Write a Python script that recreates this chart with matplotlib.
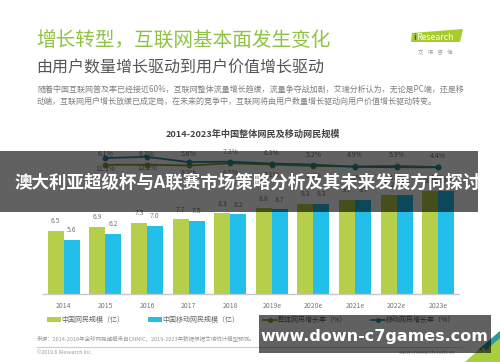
import matplotlib
matplotlib.use("Agg")
import matplotlib.pyplot as plt
from matplotlib.patches import Rectangle, Polygon, Patch
from matplotlib.lines import Line2D
import numpy as np

plt.rcParams['font.family'] = ['Noto Sans CJK SC', 'DejaVu Sans']

# ---------------- data ----------------
years = ["2014", "2015", "2016", "2017", "2018", "2019e", "2020e", "2021e", "2022e", "2023e"]
netizens = [6.5, 6.9, 7.3, 7.7, 8.3, 8.8, 9.3, 9.7, 10.2, 10.6]          # 中国网民规模（亿）
mobile_netizens = [5.6, 6.2, 7.0, 7.5, 8.2, 8.7, 9.3, 9.7, 10.2, 10.6]   # 中国移动网民规模（亿）
overall_growth = [6.1, 6.2, 5.6, 7.3, 6.3, 5.2, 4.9, 5.3, 4.4]           # 整体网民增长率（%） 2015-2023e
mobile_growth = [11.3, 12.2, 8.2, 8.5, 7.1, 6.3, 4.5, 4.3, 4.2]          # 移动网民增长率（%） 2015-2023e

legend_labels = ["中国网民规模（亿）", "中国移动网民规模（亿）", "整体网民增长率（%）", "移动网民增长率（%）"]

title = "增长转型，互联网基本面发生变化"
subtitle = "由用户数量增长驱动到用户价值增长驱动"
para1 = "随着中国互联网普及率已经接近60%，互联网整体流量增长趋缓，流量争夺战加剧，艾瑞分析认为，无论是PC端，还是移"
para2 = "动端，互联网用户增长放缓已成定局，在未来的竞争中，互联网将由用户数量增长驱动向用户价值增长驱动转变。"
chart_title = "2014-2023年中国整体网民及移动网民规模"
source = "来源：2014-2018年全球网民规模来自CNNIC，2019-2023年数据根据艾瑞统计模型预测。"
banner_text = "澳大利亚超级杯与A联赛市场策略分析及其未来发展方向探讨"
banner2_text = "www.down-c7games.com"

GREEN = "#b5cf4a"
BLUE = "#22bfea"
OLIVE = "#8a9b2c"
TEAL = "#2a8ea0"

W, H = 500, 362
fig = plt.figure(figsize=(W / 100, H / 100), dpi=100)
fig.patch.set_facecolor("white")

def fx(x):
    return x / W

def fy(y):
    return 1 - y / H

# ---------------- header texts ----------------
fig.text(fx(36), fy(41), title, fontsize=14.1, color="#8fc346", va="center", ha="left")
fig.text(fx(36), fy(68), subtitle, fontsize=11.5, color="#555555", va="center", ha="left")
fig.text(fx(37), fy(89), para1, fontsize=5.8, color="#808080", va="center", ha="left")
fig.text(fx(37), fy(101), para2, fontsize=5.8, color="#808080", va="center", ha="left")

# logo
logo = Polygon([(fx(412), fy(33)), (fx(463), fy(29)), (fx(460), fy(42)), (fx(411), fy(42))],
               closed=True, transform=fig.transFigure, facecolor="#a8cc2c", edgecolor="none")
fig.add_artist(logo)
fig.text(fx(413), fy(37), "i", fontsize=6.5, color="#1f5fa8", va="center", ha="left", fontweight="bold")
fig.text(fx(416), fy(37), "Research", fontsize=6.3, color="white", va="center", ha="left")
fig.text(fx(435), fy(52), "艾    瑞    咨    询", fontsize=3.8, color="#999999", va="center", ha="center")

# chart title
fig.text(fx(253), fy(134), chart_title, fontsize=6.6, color="#444444", va="center", ha="center",
         fontweight="bold")

# ---------------- chart ----------------
ax = fig.add_axes([fx(43), fy(294), (459 - 43) / W, (294 - 130) / H])
x = np.arange(len(years))
bw = 0.385
ax.bar(x - bw / 2, netizens, width=bw, color=GREEN, zorder=2)
ax.bar(x + bw / 2, mobile_netizens, width=bw, color=BLUE, zorder=2)
for xi, v in zip(x, netizens):
    ax.annotate(f"{v:.1f}", (xi - bw / 2, v), xytext=(0, 4), textcoords="offset points",
                ha="center", va="bottom", fontsize=5, color="#777777")
for xi, v in zip(x, mobile_netizens):
    ax.annotate(f"{v:.1f}", (xi + bw / 2, v), xytext=(0, 4), textcoords="offset points",
                ha="center", va="bottom", fontsize=5, color="#777777")
ax.set_xlim(-0.5, len(years) - 0.5)
ax.set_ylim(0, (294 - 130) / 9.73)
ax.set_xticks(x)
ax.set_xticklabels(years, fontsize=5, color="#777777")
ax.tick_params(axis="x", length=0, pad=6)
ax.set_yticks([])
for s in ["left", "right", "top"]:
    ax.spines[s].set_visible(False)
ax.spines["bottom"].set_color("#c8c8c8")
ax.spines["bottom"].set_linewidth(1.0)
ax.patch.set_alpha(0)

ax2 = ax.twinx()
ax2.set_ylim(-92.5, 32.7)
ax2.set_axis_off()
xl = x[1:]
ax2.plot(xl, overall_growth, color=OLIVE, lw=1.3, marker="o", ms=3.2, zorder=3)
ax2.plot(xl, mobile_growth, color=TEAL, lw=1.3, marker="o", ms=3.2, zorder=3)
for xi, v in zip(xl, overall_growth):
    ax2.annotate(f"{v:.1f}%", (xi, v), xytext=(0, 8), textcoords="offset points",
                 ha="center", va="center", fontsize=5, color="#777777")
for xi, v in zip(xl, mobile_growth):
    ax2.annotate(f"{v:.1f}%", (xi, v), xytext=(0, -8), textcoords="offset points",
                 ha="center", va="center", fontsize=5, color="#777777")

# legend
handles = [Patch(facecolor=GREEN, edgecolor="none"),
           Patch(facecolor=BLUE, edgecolor="none"),
           Line2D([], [], color=OLIVE, lw=1.2, marker="o", ms=2.5),
           Line2D([], [], color=TEAL, lw=1.2, marker="o", ms=2.5)]
fig.legend(handles, legend_labels, ncol=4, loc="center", bbox_to_anchor=(fx(251), fy(320)),
           frameon=False, fontsize=5, handlelength=2.0, handleheight=0.6, handletextpad=0.1,
           columnspacing=3.4, labelcolor="#666666")

# footer
fig.text(fx(37), fy(339), source, fontsize=4, color="#999999", va="center", ha="left")
fig.add_artist(Line2D([fx(37), fx(462)], [fy(347), fy(347)], transform=fig.transFigure,
                      color="#cccccc", lw=0.8))
fig.text(fx(37), fy(353), "©2019.6 iResearch Inc.", fontsize=3.8, color="#999999", va="center", ha="left")
fig.text(fx(455), fy(352), "www.iresearch.com.cn", fontsize=3.8, color="#999999", va="center", ha="right")
tri = Polygon([(fx(465), fy(362)), (fx(500), fy(331)), (fx(500), fy(362))], closed=True,
              transform=fig.transFigure, facecolor="#a6cf3a", edgecolor="none")
fig.add_artist(tri)
stripe = Polygon([(fx(478), fy(350)), (fx(500), fy(331)), (fx(500), fy(338)), (fx(486), fy(350))],
                 closed=True, transform=fig.transFigure, facecolor="#2a9a9a", edgecolor="none")
fig.add_artist(stripe)
fig.text(fx(484), fy(351), "5", fontsize=4.5, color="white", va="center", ha="center")

# ---------------- overlay banners ----------------
b1 = Rectangle((fx(0), fy(212)), fx(478), (212 - 151) / H, transform=fig.transFigure,
               facecolor="black", alpha=0.62, edgecolor="none", zorder=10)
fig.add_artist(b1)
fig.text(fx(248), fy(183), banner_text, fontsize=12.6, color="white", fontweight="bold",
         va="center", ha="center", zorder=11)
b2 = Rectangle((fx(259), fy(353)), (491 - 259) / W, (353 - 315) / H, transform=fig.transFigure,
               facecolor="black", alpha=0.62, edgecolor="none", zorder=10)
fig.add_artist(b2)
fig.text(fx(374), fy(336), banner2_text, fontsize=11.5, color="white", fontweight="bold",
         va="center", ha="center", zorder=11, family="DejaVu Sans")

fig.savefig("out.png", dpi=100, facecolor="white")
